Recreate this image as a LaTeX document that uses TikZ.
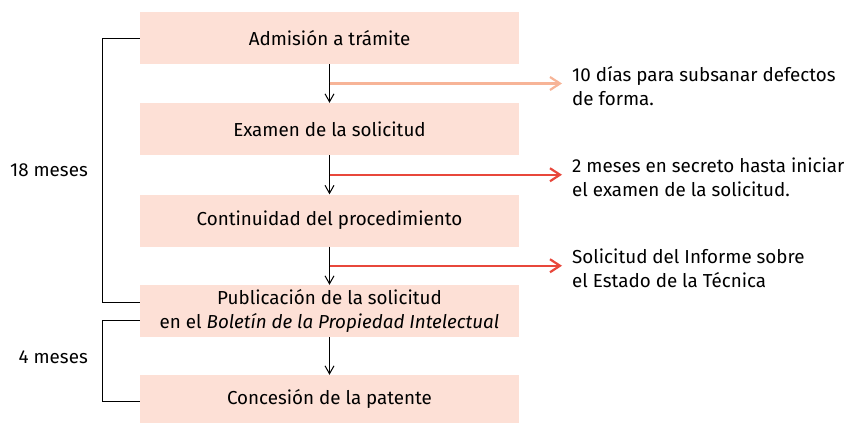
\documentclass[tikz,border=0pt]{standalone}
\usepackage{fontspec}
\setmainfont{Fira Sans}
\usetikzlibrary{arrows.meta,calc}

\definecolor{boxfill}{HTML}{FDE0D6}
\definecolor{paleorange}{HTML}{F7B497}
\definecolor{alertred}{HTML}{E8473B}

\begin{document}
\begin{tikzpicture}[x=1pt,y=-1pt,
    stage/.style={fill=boxfill, minimum width=379pt, minimum height=52pt,
      inner sep=0pt, align=center, font=\fontsize{18.8}{23.5}\selectfont},
    note/.style={anchor=west, align=left, inner sep=0pt,
      font=\fontsize{18.8}{24}\selectfont},
    flow/.style={-{Straight Barb[length=8pt,width=9pt]}, line width=1pt},
    sidearrow/.style={-{Straight Barb[length=10pt,width=13pt]}, line width=2.2pt},
    bracket/.style={line width=1pt}]
    \useasboundingbox (0,0) rectangle (850,423);
    % Stages of the procedure
    \node[stage] (admision) at (329.5,38) {Admisión a trámite};
    \node[stage] (examen) at (329.5,129) {Examen de la solicitud};
    \node[stage] (continuidad) at (329.5,220.5) {Continuidad del procedimiento};
    \node[stage] (publicacion) at (329.5,311)
      {Publicación de la solicitud\\en el \textit{Boletín de la Propiedad Intelectual}};
    \node[stage, minimum height=48pt] (concesion) at (329.5,399) {Concesión de la patente};
    % Main flow
    \draw[flow] (admision) -- (examen);
    \draw[flow] (examen) -- (continuidad);
    \draw[flow] (continuidad) -- (publicacion);
    \draw[flow] (publicacion) -- (concesion);
    % Branch points on the flow
    \coordinate (br1) at ($(admision.south)!0.5!(examen.north)$);
    \coordinate (br2) at ($(examen.south)!0.5!(continuidad.north)$);
    \coordinate (br3) at ($(continuidad.south)!0.5!(publicacion.north)$);
    \coordinate (end1) at (562,0 |- br1);
    \coordinate (end2) at (562,0 |- br2);
    \coordinate (end3) at (562,0 |- br3);
    % Side notes
    \node[note] (plazo) at ([xshift=10pt,yshift=-3pt]end1) {10 días para subsanar defectos\\de forma.};
    \node[note] (secreto) at ([xshift=10pt,yshift=-3pt]end2) {2 meses en secreto hasta iniciar\\el examen de la solicitud.};
    \node[note] (informe) at ([xshift=10pt,yshift=-3pt]end3) {Solicitud del Informe sobre\\el Estado de la Técnica};
    \draw[sidearrow, paleorange] (br1) -- (end1);
    \draw[sidearrow, alertred] (br2) -- (end2);
    \draw[sidearrow, alertred] (br3) -- (end3);
    % Time brackets
    \draw[bracket] (admision.west) -- ++(-37,0) |- ([yshift=9pt]publicacion.west);
    \draw[bracket] ([yshift=-9pt]publicacion.west) -- ++(-37,0) |- ([yshift=-2pt]concesion.west);
    \node[anchor=east, inner sep=0pt, font=\fontsize{18.8}{23.5}\selectfont] (dieciocho) at (88,170) {18 meses};
    \node[anchor=east, inner sep=0pt, font=\fontsize{18.8}{23.5}\selectfont] (cuatro) at (88,357) {4 meses};
\end{tikzpicture}
\end{document}
